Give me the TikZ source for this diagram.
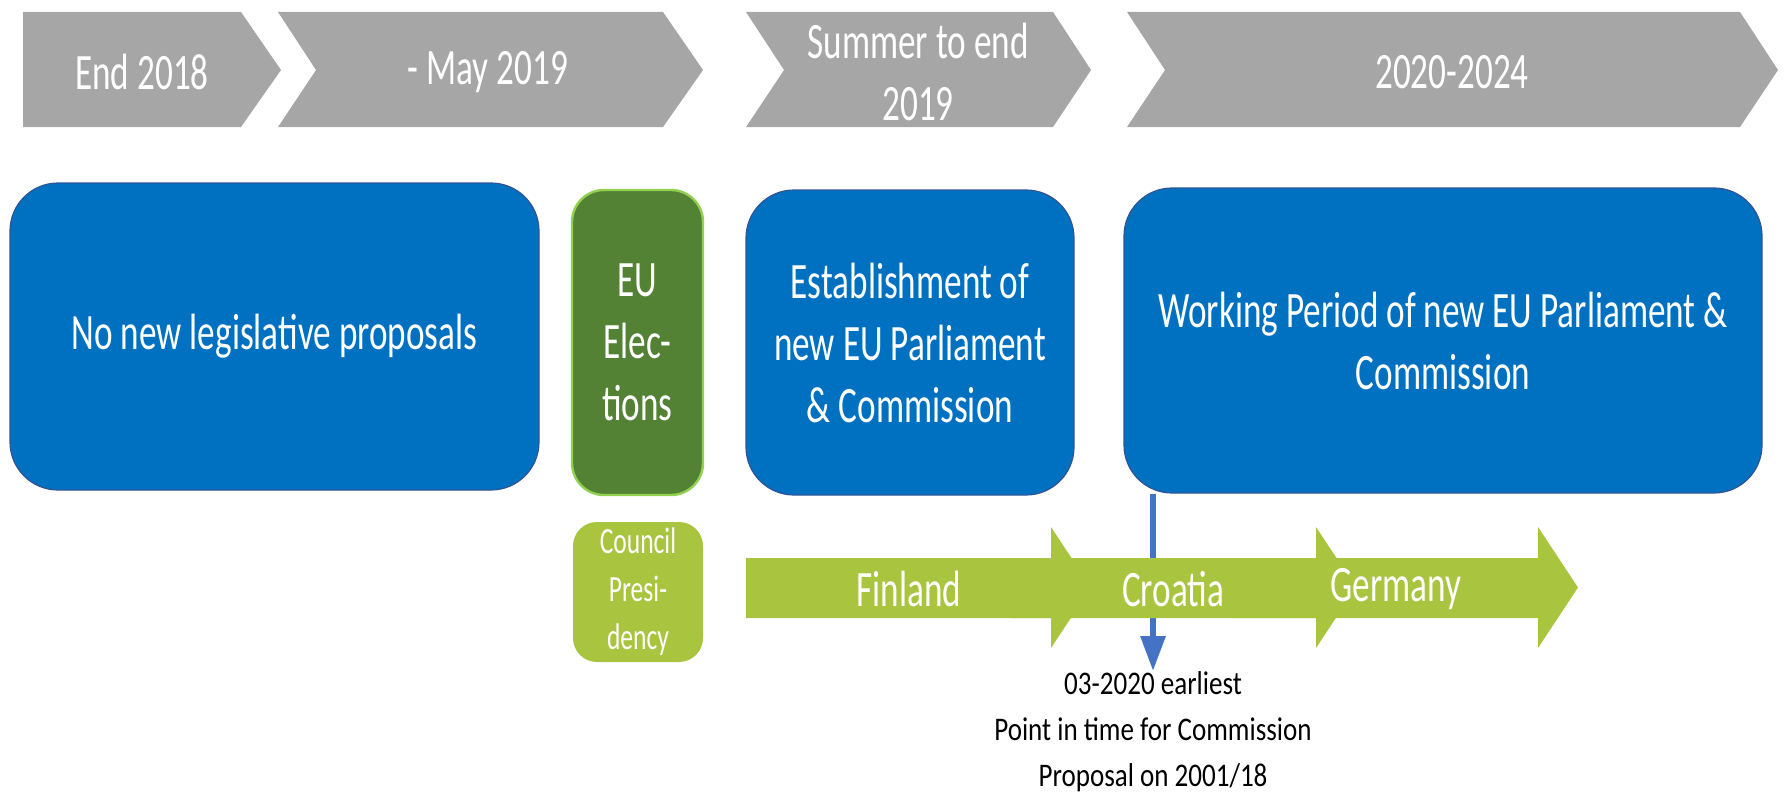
\documentclass[tikz,border=0pt]{standalone}
\usepackage{fontspec}
\setmainfont{Carlito}[FakeStretch=0.69]
\newfontfamily\notefont{Carlito}[FakeStretch=0.82]
\usetikzlibrary{arrows.meta,positioning,backgrounds}

\definecolor{chevgrey}{HTML}{A6A6A6}
\definecolor{eublue}{HTML}{0070C0}
\definecolor{euedge}{HTML}{2F5597}
\definecolor{elecgreen}{HTML}{548235}
\definecolor{elecedge}{HTML}{92D050}
\definecolor{presgreen}{HTML}{A9C43F}
\definecolor{markblue}{HTML}{4472C4}

\begin{document}
\begin{tikzpicture}[
  x=0.5pt, y=-0.5pt,
  wtxt/.style={text=white,font=\fontsize{25.5}{31}\selectfont,align=center,inner sep=0pt},
  bluebox/.style={wtxt,draw=euedge,fill=eublue,line width=0.6pt,rounded corners=24pt},
  elecbox/.style={wtxt,draw=elecedge,fill=elecgreen,line width=1.2pt,rounded corners=16pt},
  presbox/.style={text=white,font=\fontsize{18.5}{24}\selectfont,align=center,
    fill=presgreen,rounded corners=12pt,inner sep=0pt},
  note/.style={font=\notefont\fontsize{16.5}{23}\selectfont,align=center,inner sep=0pt},
  a/.style={markblue,line width=3pt,-{Triangle[length=17.5pt,width=12pt]}}]
\useasboundingbox (0,0) rectangle (1786,797);

% time line on top
\fill[chevgrey] (23,12) -- (241,12) -- (281,70) -- (241,127) -- (23,127) -- cycle;
\fill[chevgrey] (278,12) -- (663,12) -- (703,70) -- (663,127) -- (278,127) -- (316,70) -- cycle;
\fill[chevgrey] (746,12) -- (1053,12) -- (1091,70) -- (1053,127) -- (746,127) -- (784,70) -- cycle;
\fill[chevgrey] (1127,12) -- (1740,12) -- (1778,70) -- (1740,127) -- (1127,127) -- (1165,70) -- cycle;
\node[wtxt] (t18) at (142,72) {End 2018};
\node[wtxt] (t19) at (488,72) {- May 2019};
\node[wtxt] (t19b) at (918,72) {Summer to end\\2019};
\node[wtxt] (t24) at (1452,72) {2020-2024};

% phases
\node[bluebox,minimum width=264.5pt,minimum height=153.5pt] (nolp) at (274.5,336.5) {No new legislative proposals};
\node[elecbox,minimum width=65.5pt,minimum height=152.5pt] (elec) at (637.5,342.5) {EU\\Elec-\\tions};
\node[bluebox,minimum width=164pt,minimum height=152.5pt] (estb) at (910,342.5) {Establishment of\\new EU Parliament\\\& Commission};
\node[bluebox,minimum width=319pt,minimum height=152.5pt] (work) at (1443,340.5) {Working Period of new EU Parliament \&\\Commission};
\node[presbox,minimum width=65pt,minimum height=70pt] (pres) at (638,592) {Council\\Presi-\\dency};

% presidencies
\foreach \sx/\nm/\lbl/\tx in {746/fin/Finland/909, 1011/cro/Croatia/1173, 1233/ger/Germany/1396} {
  \fill[presgreen] (\sx,558) -- ++(305,0) -- ++(0,-31) -- ++(40,60.5) -- ++(-40,60.5)
    -- ++(0,-30) -- ++(-305,0) -- cycle;
  \node[wtxt] (\nm) at (\tx,589) {\lbl};
}

\node[note,anchor=north] (prop) at (1153,671) {03-2020 earliest\\Point in time for Commission\\Proposal on 2001/18};

\begin{scope}[on background layer]
\draw[a] (prop.north |- work.south) -- (prop.north);
\end{scope}
\end{tikzpicture}
\end{document}
